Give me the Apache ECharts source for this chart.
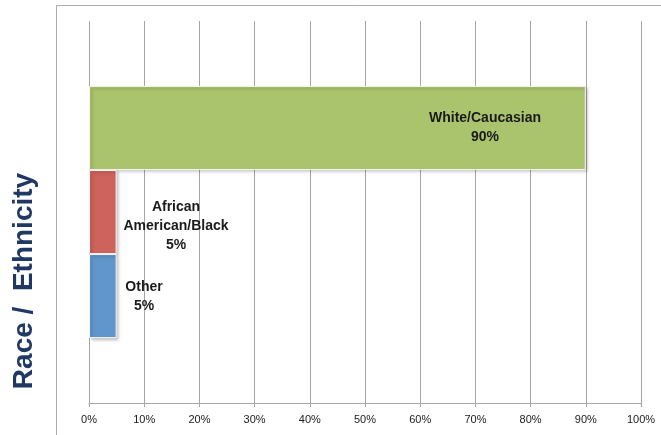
<!DOCTYPE html>
<html>
<head>
<meta charset="utf-8">
<script src="https://cdn.jsdelivr.net/npm/echarts@6/dist/echarts.min.js"></script>
<style>html,body{margin:0;padding:0;background:#fff}#c{width:661px;height:435px}</style>
</head>
<body>
<div id="c"></div>
<script>
const categories = ['Race / Ethnicity'];
const seriesNames = ['White/Caucasian', 'African\nAmerican/Black', 'Other'];
const seriesValues = [[90], [5], [5]];
const xTicks = [0, 10, 20, 30, 40, 50, 60, 70, 80, 90, 100];
const colors = ['#A9C46C', '#CE625C', '#6096CC'];
const labelPos = [[396, 42], [87, 56], [55, 43]];

const chart = echarts.init(document.getElementById('c'), null, {renderer: 'canvas'});
const font = '"Liberation Sans", Arial, sans-serif';
chart.setOption({
  animation: false,
  textStyle: {fontFamily: font},
  grid: {left: 89, right: 20, top: 21, bottom: 32},
  xAxis: {
    type: 'value', min: xTicks[0], max: xTicks[xTicks.length - 1], interval: 10,
    axisLine: {show: true, lineStyle: {color: '#A6A6A6', width: 1}},
    axisTick: {show: true, length: 4, lineStyle: {color: '#A6A6A6'}},
    axisLabel: {formatter: '{value}%', fontSize: 11, color: '#1a1a1a', margin: 11, fontFamily: font},
    splitLine: {show: true, lineStyle: {color: '#A6A6A6', width: 1}}
  },
  yAxis: {
    type: 'category', data: categories,
    axisLine: {show: false}, axisTick: {show: false}, axisLabel: {show: false}
  },
  graphic: [
    {type: 'polyline', shape: {points: [[56.5, 435], [56.5, 5.5], [661, 5.5]]}, style: {stroke: '#ABABAB', lineWidth: 1, fill: null}},
    {type: 'text', x: 24, y: 281, rotation: Math.PI / 2,
     style: {text: 'Race /  Ethnicity', fill: '#1F3864', fontSize: 28, fontWeight: 'bold', fontFamily: font, align: 'center', verticalAlign: 'middle'}}
  ],
  series: seriesNames.map((n, i) => ({
    type: 'bar', name: n, data: seriesValues[i],
    barGap: '0%', barCategoryGap: '34%',
    itemStyle: {color: colors[i], borderColor: '#f4f4f4', borderWidth: 1,
      shadowColor: 'rgba(0,0,0,0.25)', shadowBlur: 3, shadowOffsetX: 2, shadowOffsetY: 2},
    label: {show: true, position: labelPos[i], align: 'center', verticalAlign: 'middle',
      formatter: p => p.seriesName + '\n' + p.value + '%',
      fontSize: 14, fontWeight: 'bold', color: '#1a1a1a', lineHeight: 19, fontFamily: font}
  }))
});
</script>
</body>
</html>
